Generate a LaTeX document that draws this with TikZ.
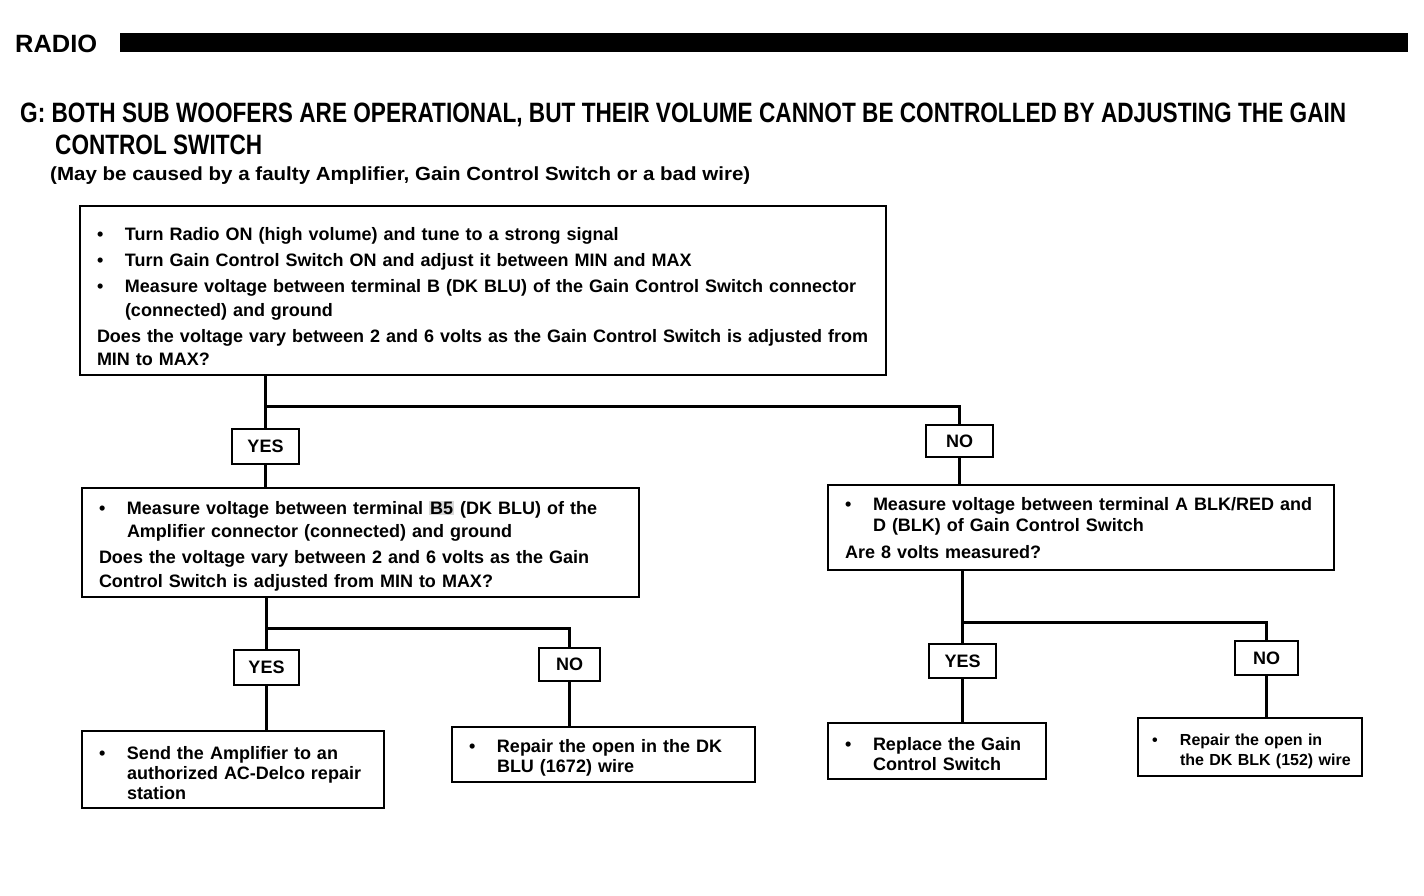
\documentclass[tikz,border=0pt]{standalone}
\usepackage{fontspec}
\usepackage{graphicx}
\setmainfont{Liberation Sans}

\newcommand{\bodytext}{\bfseries\fontsize{18}{23.5}\selectfont\setlength{\parskip}{2.5pt}}
\newcommand{\fixtext}{\bfseries\fontsize{18}{20}\selectfont}
\newcommand{\itm}[1]{\par\leftskip=7pt\hangindent=28pt\hangafter=1\noindent\makebox[28pt][l]{\textbullet}#1\par}
\newcommand{\ask}[1]{\par\leftskip=7pt\noindent #1\par}
\newcommand{\termmark}[1]{{\setlength{\fboxsep}{1pt}\colorbox{black!15}{#1}}}
\newcommand{\lift}[1]{\par\nointerlineskip\vbox to #1{}}

\begin{document}
\begin{tikzpicture}[x=1pt, y=-1pt,
  box/.style = {draw, line width=2pt, anchor=north west, inner xsep=10pt, inner ysep=0pt, align=left, font=\bodytext},
  fix/.style = {box, font=\fixtext},
  ans/.style = {draw, line width=2pt, anchor=north west, inner sep=0pt, font=\bfseries\fontsize{18}{20}\selectfont},
  head/.style = {anchor=base west, inner sep=0pt, font=\bfseries},
  conn/.style = {line width=3pt}]

\useasboundingbox (0,0) rectangle (1424,896);

% heading
\node[head] (radio) at (15,53) {\resizebox{82pt}{\height}{\fontsize{25}{27}\selectfont RADIO}};
\fill (120,33) rectangle (1408,52);

\node[head] (title) at (20,123) {\resizebox{1326pt}{\height}{\fontsize{28}{30}\selectfont G: BOTH SUB WOOFERS ARE OPERATIONAL, BUT THEIR VOLUME CANNOT BE CONTROLLED BY ADJUSTING THE GAIN}};
\node[head] (title2) at (55,155) {\resizebox{207pt}{\height}{\fontsize{28}{30}\selectfont CONTROL SWITCH}};
\node[head] (cause) at (50,181) {\resizebox{700pt}{\height}{\fontsize{19}{21}\selectfont (May be caused by a faulty Amplifier, Gain Control Switch or a bad wire)}};

% test boxes
\node[box, text width=786pt, minimum height=169pt] (check) at (79,205) {%
  \itm{Turn Radio ON (high volume) and tune to a strong signal}
  \itm{Turn Gain Control Switch ON and adjust it between MIN and MAX}
  \itm{Measure voltage between terminal B (DK BLU) of the Gain Control Switch connector\newline (connected) and ground}
  \ask{Does the voltage vary between 2 and 6 volts as the Gain Control Switch is adjusted from\newline MIN to MAX?}};

\node[box, text width=537pt, minimum height=109pt] (amp) at (81,487) {%
  \itm{Measure voltage between terminal \termmark{B5} (DK BLU) of the\newline Amplifier connector (connected) and ground}
  \ask{Does the voltage vary between 2 and 6 volts as the Gain\newline Control Switch is adjusted from MIN to MAX?}\lift{6pt}};

\node[box, text width=486pt, minimum height=85pt] (feed) at (827,484) {%
  {\baselineskip=21pt\itm{Measure voltage between terminal A BLK/RED and\newline D (BLK) of Gain Control Switch}}
  \vspace{1pt}\ask{Are 8 volts measured?}\lift{10pt}};

% answers
\node[ans, minimum width=67pt, minimum height=35pt] (yes1) at (231,428) {YES};
\node[ans, minimum width=67pt, minimum height=32pt] (no1) at (925,424) {NO};
\node[ans, minimum width=65pt, minimum height=35pt] (yes2) at (233,649) {YES};
\node[ans, minimum width=61pt, minimum height=33pt] (no2) at (538,647) {NO};
\node[ans, minimum width=67pt, minimum height=34pt] (yes3) at (928,643) {YES};
\node[ans, minimum width=63pt, minimum height=34pt] (no3) at (1234,640) {NO};

% repairs
\node[fix, text width=282pt, minimum height=77pt] (send) at (81,730) {%
  \itm{Send the Amplifier to an\newline authorized AC-Delco repair\newline station}};
\node[fix, text width=283pt, minimum height=55pt] (bluwire) at (451,726) {%
  \itm{Repair the open in the DK\newline BLU (1672) wire}};
\node[fix, text width=198pt, minimum height=56pt] (switch) at (827,722) {%
  \itm{Replace the Gain\newline Control Switch}};
\node[fix, inner xsep=7pt, text width=210pt, minimum height=58pt, font=\bfseries\fontsize{16}{20}\selectfont] (blkwire) at (1137,717) {%
  \itm{Repair the open in\newline \mbox{the DK BLK (152) wire}}};

% connectors
\coordinate (s1) at (267,406);
\coordinate (s2) at (269,628);
\coordinate (s3) at (963,622);

\draw[conn] (check.south -| yes1.north) -- (yes1.north);
\draw[conn] (yes1.north |- s1) -| (no1.north);
\draw[conn] (yes1.south) -- (amp.north -| yes1.south);
\draw[conn] (no1.south) -- (feed.north -| no1.south);

\draw[conn] (amp.south -| yes2.north) -- (yes2.north);
\draw[conn] (yes2.north |- s2) -| (no2.north);
\draw[conn] (yes2.south) -- (send.north -| yes2.south);
\draw[conn] (no2.south) -- (bluwire.north -| no2.south);

\draw[conn] (feed.south -| yes3.north) -- (yes3.north);
\draw[conn] (yes3.north |- s3) -| (no3.north);
\draw[conn] (yes3.south) -- (switch.north -| yes3.south);
\draw[conn] (no3.south) -- (blkwire.north -| no3.south);

\end{tikzpicture}
\end{document}
